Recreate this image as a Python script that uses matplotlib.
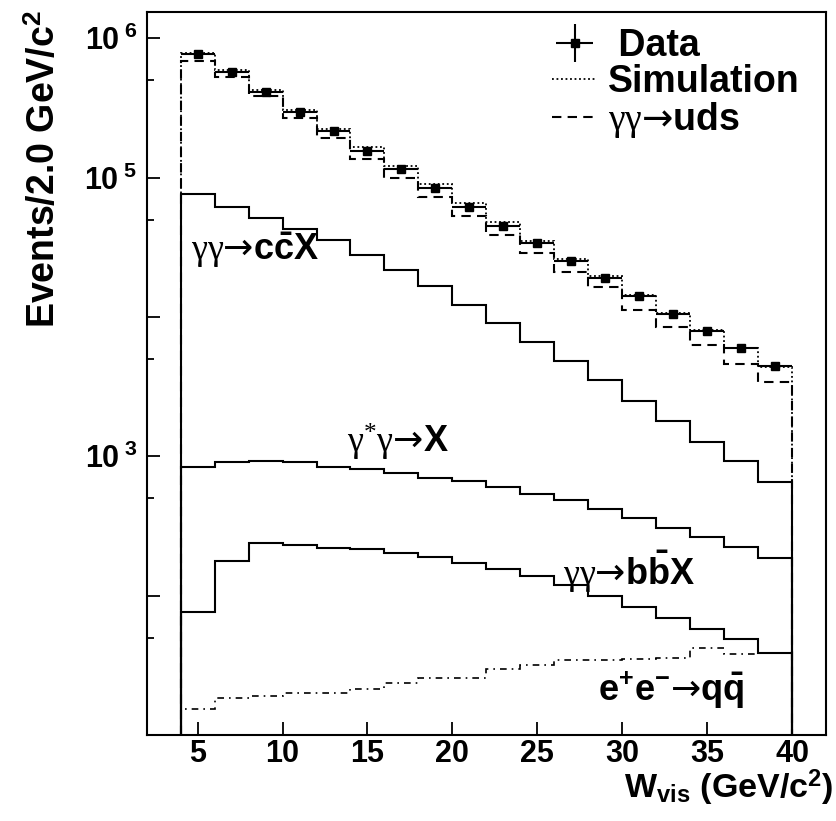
import numpy as np
import matplotlib
matplotlib.use("Agg")
import matplotlib.pyplot as plt
from matplotlib.ticker import FixedLocator, FixedFormatter, NullFormatter

plt.rcParams['font.family'] = ['Liberation Sans', 'DejaVu Sans']
plt.rcParams['font.weight'] = 'bold'
plt.rcParams['mathtext.fontset'] = 'custom'
plt.rcParams['mathtext.rm'] = 'Liberation Serif:normal'
plt.rcParams['mathtext.it'] = 'Liberation Serif:italic:normal'
plt.rcParams['mathtext.bf'] = 'Liberation Sans:bold'
plt.rcParams['mathtext.sf'] = 'DejaVu Sans:normal'

# W_vis binning: 2 GeV/c^2 bins from 4 to 40
bin_edges = np.arange(4, 42, 2)
bin_centers = bin_edges[:-1] + 1

data = [776000, 574000, 410000, 296500, 215800, 156000, 115300, 83900, 61900,
        45300, 33900, 25350, 19050, 14060, 10520, 7910, 5940, 4440]
simulation = [785000, 587500, 422700, 305500, 223400, 165200, 120800, 89700, 65600,
              48200, 35240, 26060, 19540, 14290, 10690, 8000, 6010, 4400]
gg_uds = [684000, 523600, 386400, 266100, 191400, 136100, 99100, 73100, 52600,
          38900, 28770, 20890, 16410, 11300, 8430, 6270, 4560, 3410]
gg_ccx = [76000, 61400, 50900, 42950, 35810, 27990, 21580, 16600, 12270,
          9020, 6590, 4850, 3510, 2480, 1790, 1270, 927, 656]
gsg_x = [832, 908, 923, 908, 839, 804, 757, 700, 664,
         601, 533, 485, 418, 359, 308, 265, 224, 187]
gg_bbx = [76.2, 178, 238, 232, 219, 215, 201, 189, 172,
          155, 138, 119, 99, 82.8, 69.3, 57.8, 49.1, 38.7]
ee_qq = [15.3, 18.5, 19.0, 20.0, 20.0, 21.2, 23.7, 25.6, 25.6,
         29.9, 31.9, 34.3, 34.7, 35.2, 35.9, 42.1, 38.3, 38.7]

y_ticks = [1e2, 1e3, 1e4, 1e5, 1e6]
y_tick_labels = ['', r'$\mathbf{10^{\ 3}}$', '', r'$\mathbf{10^{\ 5}}$', r'$\mathbf{10^{\ 6}}$']
y_minor = [50, 500, 5000, 50000, 500000]
x_ticks = [5, 10, 15, 20, 25, 30, 35, 40]

ymin, ymax = 10, 1.55e6

fig = plt.figure(figsize=(8.36, 8.21), dpi=100)
ax = fig.add_axes([0.1755, 0.1048, 0.8125, 0.8809])
ax.set_yscale('log')

lw = 1.5
ax.stairs(simulation, bin_edges, baseline=ymin, color='black', lw=1.3,
          linestyle=(0, (1, 1.5)), label='Simulation', zorder=3)
ax.stairs(gg_uds, bin_edges, baseline=ymin, color='black', lw=lw,
          linestyle=(0, (4.5, 3)), label='uds', zorder=3)
ax.stairs(gg_ccx, bin_edges, baseline=ymin, color='black', lw=lw, zorder=3)
ax.stairs(gsg_x, bin_edges, baseline=ymin, color='black', lw=lw, zorder=3)
ax.stairs(gg_bbx, bin_edges, baseline=ymin, color='black', lw=lw, zorder=3)
ax.stairs(ee_qq, bin_edges, baseline=ymin, color='black', lw=1.2,
          linestyle=(0, (4, 3, 1, 3)), zorder=3)

data_err = np.sqrt(data)
ax.errorbar(bin_centers, data, xerr=1, yerr=data_err, fmt='s', color='black',
            ms=5.5, lw=1.5, capsize=0, label='Data', zorder=4)

ax.set_xlim(2, 42)
ax.set_ylim(ymin, ymax)

ax.yaxis.set_major_locator(FixedLocator(y_ticks))
ax.yaxis.set_major_formatter(FixedFormatter(y_tick_labels))
ax.yaxis.set_minor_locator(FixedLocator(y_minor))
ax.yaxis.set_minor_formatter(NullFormatter())
ax.set_xticks(x_ticks)
ax.set_xticklabels([str(t) for t in x_ticks])

ax.tick_params(axis='y', which='major', direction='in', length=9.5, width=1.3,
               labelsize=22, pad=7, right=False)
ax.tick_params(axis='y', which='minor', direction='in', length=5, width=1.3, right=False)
ax.tick_params(axis='x', which='major', direction='in', length=9.5, width=1.3,
               labelsize=22, pad=3, top=False)
ax.tick_params(axis='x', which='minor', bottom=False, top=False)
for sp in ax.spines.values():
    sp.set_linewidth(1.5)

ARROW = r'\mathsf{→}'

# process labels
ax.text(4.6, 3.0e4, r'$\mathrm{\gamma\gamma}' + ARROW + r'\mathbf{c\bar{c}X}$',
        fontsize=26, va='center', ha='left')
ax.text(13.8, 1.25e3, r'$\mathrm{\gamma^{*}\gamma}' + ARROW + r'\mathbf{X}$',
        fontsize=26, va='center', ha='left')
ax.text(26.5, 150, r'$\mathrm{\gamma\gamma}' + ARROW + r'\mathbf{b\bar{b}X}$',
        fontsize=26, va='center', ha='left')
ax.text(28.6, 21, r'$\mathbf{e^{+}e^{-}}' + ARROW + r'\mathbf{q\bar{q}}$',
        fontsize=26, va='center', ha='left')

handles, labels = ax.get_legend_handles_labels()
h = {l: hh for hh, l in zip(handles, labels)}
leg_keys = ['Data', 'Simulation', 'uds']
leg_text = [' Data', 'Simulation', r'$\mathrm{\gamma\gamma}' + ARROW + r'$uds']
ax.legend([h[k] for k in leg_keys], leg_text, loc='upper left',
          bbox_to_anchor=(552 / 836, 1 - 28 / 821), bbox_transform=fig.transFigure,
          frameon=False, fontsize=27, handlelength=1.2, handletextpad=0.3,
          labelspacing=0.0, borderpad=0.0, borderaxespad=0.0)

fig.text(45 / 836, 1 - 10 / 821, r'Events/2.0 GeV/c$^{\mathbf{2}}$', rotation=90,
         fontsize=27, ha='center', va='top')
fig.text(833 / 836, 1 - 798 / 821, r'W$_{\mathbf{vis}}$ (GeV/c$^{\mathbf{2}}$)',
         fontsize=24.5, ha='right', va='baseline')

fig.savefig('out.png', dpi=100)
